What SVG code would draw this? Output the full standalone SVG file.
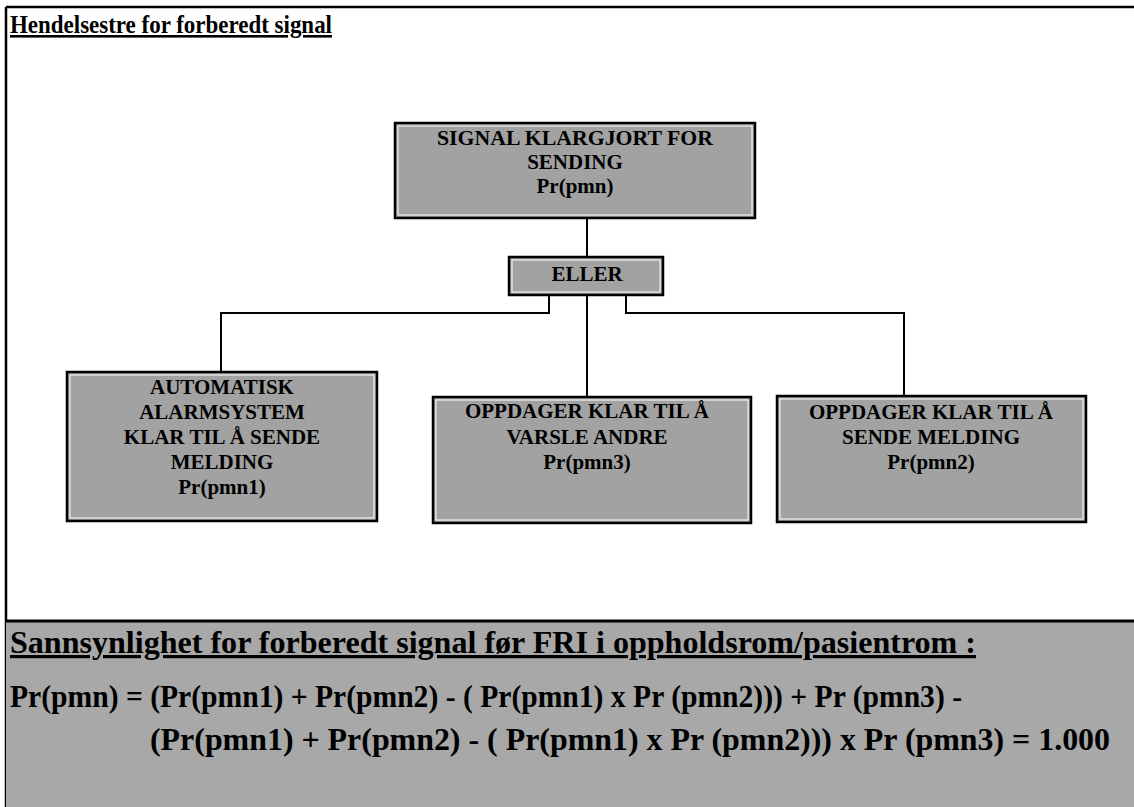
<svg xmlns="http://www.w3.org/2000/svg" width="1134" height="807" viewBox="0 0 1134 807">
  <style>
    .frame { fill: none; stroke: #000; stroke-width: 2.5; }
    .box { fill: #a2a2a2; stroke: #000; stroke-width: 2.5; }
    .inner { fill: none; stroke: #fff; stroke-width: 1; }
    .wire { fill: none; stroke: #000; stroke-width: 2; }
    .lbl { font-family: "Liberation Serif", "Times New Roman", "DejaVu Serif", serif; font-weight: bold; font-size: 21px; fill: #000; text-anchor: middle; }
    .title { font-family: "Liberation Serif", "Times New Roman", "DejaVu Serif", serif; font-weight: bold; font-size: 26px; text-decoration: underline; fill: #000; }
    .big { font-family: "Liberation Serif", "Times New Roman", "DejaVu Serif", serif; font-weight: bold; font-size: 32px; fill: #000; }
  </style>

  <rect x="0" y="0" width="1134" height="807" fill="#fff"/>

  <!-- outer frame -->
  <g id="frame">
    <line class="frame" x1="6" y1="7" x2="1134" y2="7"/>
    <line class="frame" x1="6" y1="7" x2="6" y2="807"/>
  </g>

  <text id="heading" class="title" x="10" y="33" textLength="322" lengthAdjust="spacingAndGlyphs">Hendelsestre for forberedt signal</text>

  <!-- connectors -->
  <g id="connectors">
    <line class="wire" x1="587" y1="218" x2="587" y2="257"/>
    <polyline class="wire" points="549,295 549,313 221,313 221,372"/>
    <line class="wire" x1="587" y1="295" x2="587" y2="397"/>
    <polyline class="wire" points="626,295 626,313 904,313 904,396"/>
  </g>

  <g id="node-top">
    <rect class="box" x="395" y="123" width="360" height="95"/>
    <rect class="inner" x="398" y="126" width="354" height="89"/>
    <text class="lbl" x="575" y="145" textLength="276" lengthAdjust="spacingAndGlyphs">SIGNAL KLARGJORT FOR</text>
    <text class="lbl" x="575" y="169">SENDING</text>
    <text class="lbl" x="575" y="193">Pr(pmn)</text>
  </g>

  <g id="node-eller">
    <rect class="box" x="509" y="257" width="154" height="38"/>
    <rect class="inner" x="512" y="260" width="148" height="32"/>
    <text class="lbl" x="587" y="281">ELLER</text>
  </g>

  <g id="node-pmn1">
    <rect class="box" x="67" y="372" width="310" height="149"/>
    <rect class="inner" x="70" y="375" width="304" height="143"/>
    <text class="lbl" x="222" y="394">AUTOMATISK</text>
    <text class="lbl" x="222" y="419">ALARMSYSTEM</text>
    <text class="lbl" x="222" y="444">KLAR TIL Å SENDE</text>
    <text class="lbl" x="222" y="469">MELDING</text>
    <text class="lbl" x="222" y="494">Pr(pmn1)</text>
  </g>

  <g id="node-pmn3">
    <rect class="box" x="433" y="397" width="318" height="126"/>
    <rect class="inner" x="436" y="400" width="312" height="120"/>
    <text class="lbl" x="587" y="418">OPPDAGER KLAR TIL Å</text>
    <text class="lbl" x="587" y="444">VARSLE ANDRE</text>
    <text class="lbl" x="587" y="469">Pr(pmn3)</text>
  </g>

  <g id="node-pmn2">
    <rect class="box" x="777" y="396" width="309" height="126"/>
    <rect class="inner" x="780" y="399" width="303" height="120"/>
    <text class="lbl" x="931" y="419">OPPDAGER KLAR TIL Å</text>
    <text class="lbl" x="931" y="444">SENDE MELDING</text>
    <text class="lbl" x="931" y="469">Pr(pmn2)</text>
  </g>

  <!-- probability formula panel -->
  <g id="formula">
    <rect x="6" y="621" width="1128" height="186" fill="#a8a8a8"/>
    <line x1="6" y1="621" x2="1134" y2="621" stroke="#000" stroke-width="3"/>
    <text class="big" x="10" y="653" text-decoration="underline" textLength="966" lengthAdjust="spacingAndGlyphs">Sannsynlighet for forberedt signal før FRI i oppholdsrom/pasientrom :</text>
    <text class="big" x="10" y="707" textLength="952" lengthAdjust="spacingAndGlyphs">Pr(pmn) = (Pr(pmn1) + Pr(pmn2) - ( Pr(pmn1) x Pr (pmn2))) + Pr (pmn3) -</text>
    <text class="big" x="150" y="750" textLength="960" lengthAdjust="spacingAndGlyphs">(Pr(pmn1) + Pr(pmn2) - ( Pr(pmn1) x Pr (pmn2))) x Pr (pmn3) = 1.000</text>
  </g>
</svg>
